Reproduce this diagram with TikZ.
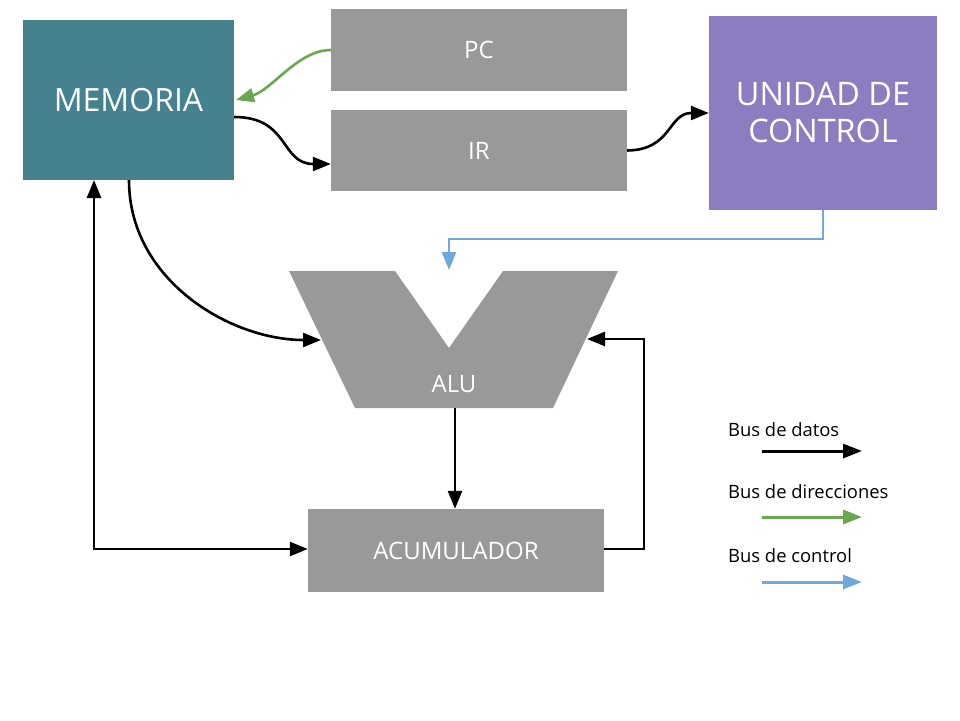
\documentclass[tikz,border=0pt]{standalone}
\usepackage{fontspec}
\setmainfont{Open Sans}
\usetikzlibrary{arrows.meta,calc}
\definecolor{memc}{HTML}{46818F}
\definecolor{grayc}{HTML}{999999}
\definecolor{ucc}{HTML}{8C7DC1}
\definecolor{greenc}{HTML}{6AA84F}
\definecolor{bluec}{HTML}{6FA8DC}
\begin{document}
\begin{tikzpicture}[x=1pt,y=-1pt,
  blk/.style={draw=none,inner sep=0pt,text=white,align=center},
  gbox/.style={blk,fill=grayc,minimum width=296pt,font=\fontsize{24}{28}\selectfont},
  conn/.style={line width=2.6pt,-{Triangle[length=18pt,width=14pt]}},
  legarrow/.style={line width=3pt,-{Triangle[length=19pt,width=14pt]}},
  legtext/.style={anchor=west,inner sep=0pt,font=\fontsize{18.4}{22}\selectfont}]
\useasboundingbox (0,0) rectangle (960,720);
\node[blk,fill=memc,minimum width=211pt,minimum height=160pt,font=\fontsize{32}{37}\selectfont] (MEM) at (128.5,100) {MEMORIA};
\node[gbox,minimum height=82pt] (PC) at (479,50) {PC};
\node[gbox,minimum height=81pt] (IR) at (479,150.5) {IR};
\node[blk,fill=ucc,minimum width=228pt,minimum height=194pt,font=\fontsize{32.4}{37}\selectfont] (UC) at (823,113) {UNIDAD DE\\CONTROL};
\node[gbox,minimum height=83pt] (ACC) at (456,550.5) {ACUMULADOR};
% ALU
\fill[grayc] (289,271) -- (395,271) -- (449,348) -- (503,271) -- (618,271) -- (553,408) -- (355,408) -- cycle;
\node[text=white,inner sep=0pt,font=\fontsize{24}{28}\selectfont] (ALU) at (454,384) {ALU};
\coordinate (alutop) at (449,270);
\coordinate (aluleft) at (321,340);
\coordinate (aluright) at (587,339);
\coordinate (alubot) at (455,408);
% connectors
\draw[conn,greenc] (PC.west) .. controls (298,50) and (272,90) .. (236,100);
\draw[conn] ($(MEM.east)+(0,17)$) .. controls (290,117) and (280,164) .. ($(IR.west)+(0,13.5)$);
\draw[conn] (IR.east) .. controls (672,150) and (668,113) .. ($(UC.west)+(0,0)$);
\draw[conn,bluec,line width=2.4pt] (UC.south) -- (823,239) -- (449,239) -- (alutop);
\draw[conn] ($(MEM.south)+(0.5,0)$) .. controls (129,280) and (230,340) .. (aluleft);
\draw[conn] (alubot) -- (ACC.north -| alubot);
\draw[conn] ($(ACC.east)+(0,-1.5)$) -- (644,549) -- (644,339) -- (aluright);
\draw[line width=2.6pt,{Triangle[length=18pt,width=14pt]}-{Triangle[length=18pt,width=14pt]}] (94,180) -- (94,549) -- ($(ACC.west)+(0,-1.5)$);
% legend
\node[legtext] (l1) at (728,430) {Bus de datos};
\node[legtext] (l2) at (728,492) {Bus de direcciones};
\node[legtext] (l3) at (728,556) {Bus de control};
\coordinate (a1s) at (762,451); \coordinate (a1e) at (862,451);
\coordinate (a2s) at (762,517); \coordinate (a2e) at (862,517);
\coordinate (a3s) at (762,582); \coordinate (a3e) at (862,582);
\draw[legarrow] (a1s) -- (a1e);
\draw[legarrow,greenc] (a2s) -- (a2e);
\draw[legarrow,bluec] (a3s) -- (a3e);
\end{tikzpicture}
\end{document}
